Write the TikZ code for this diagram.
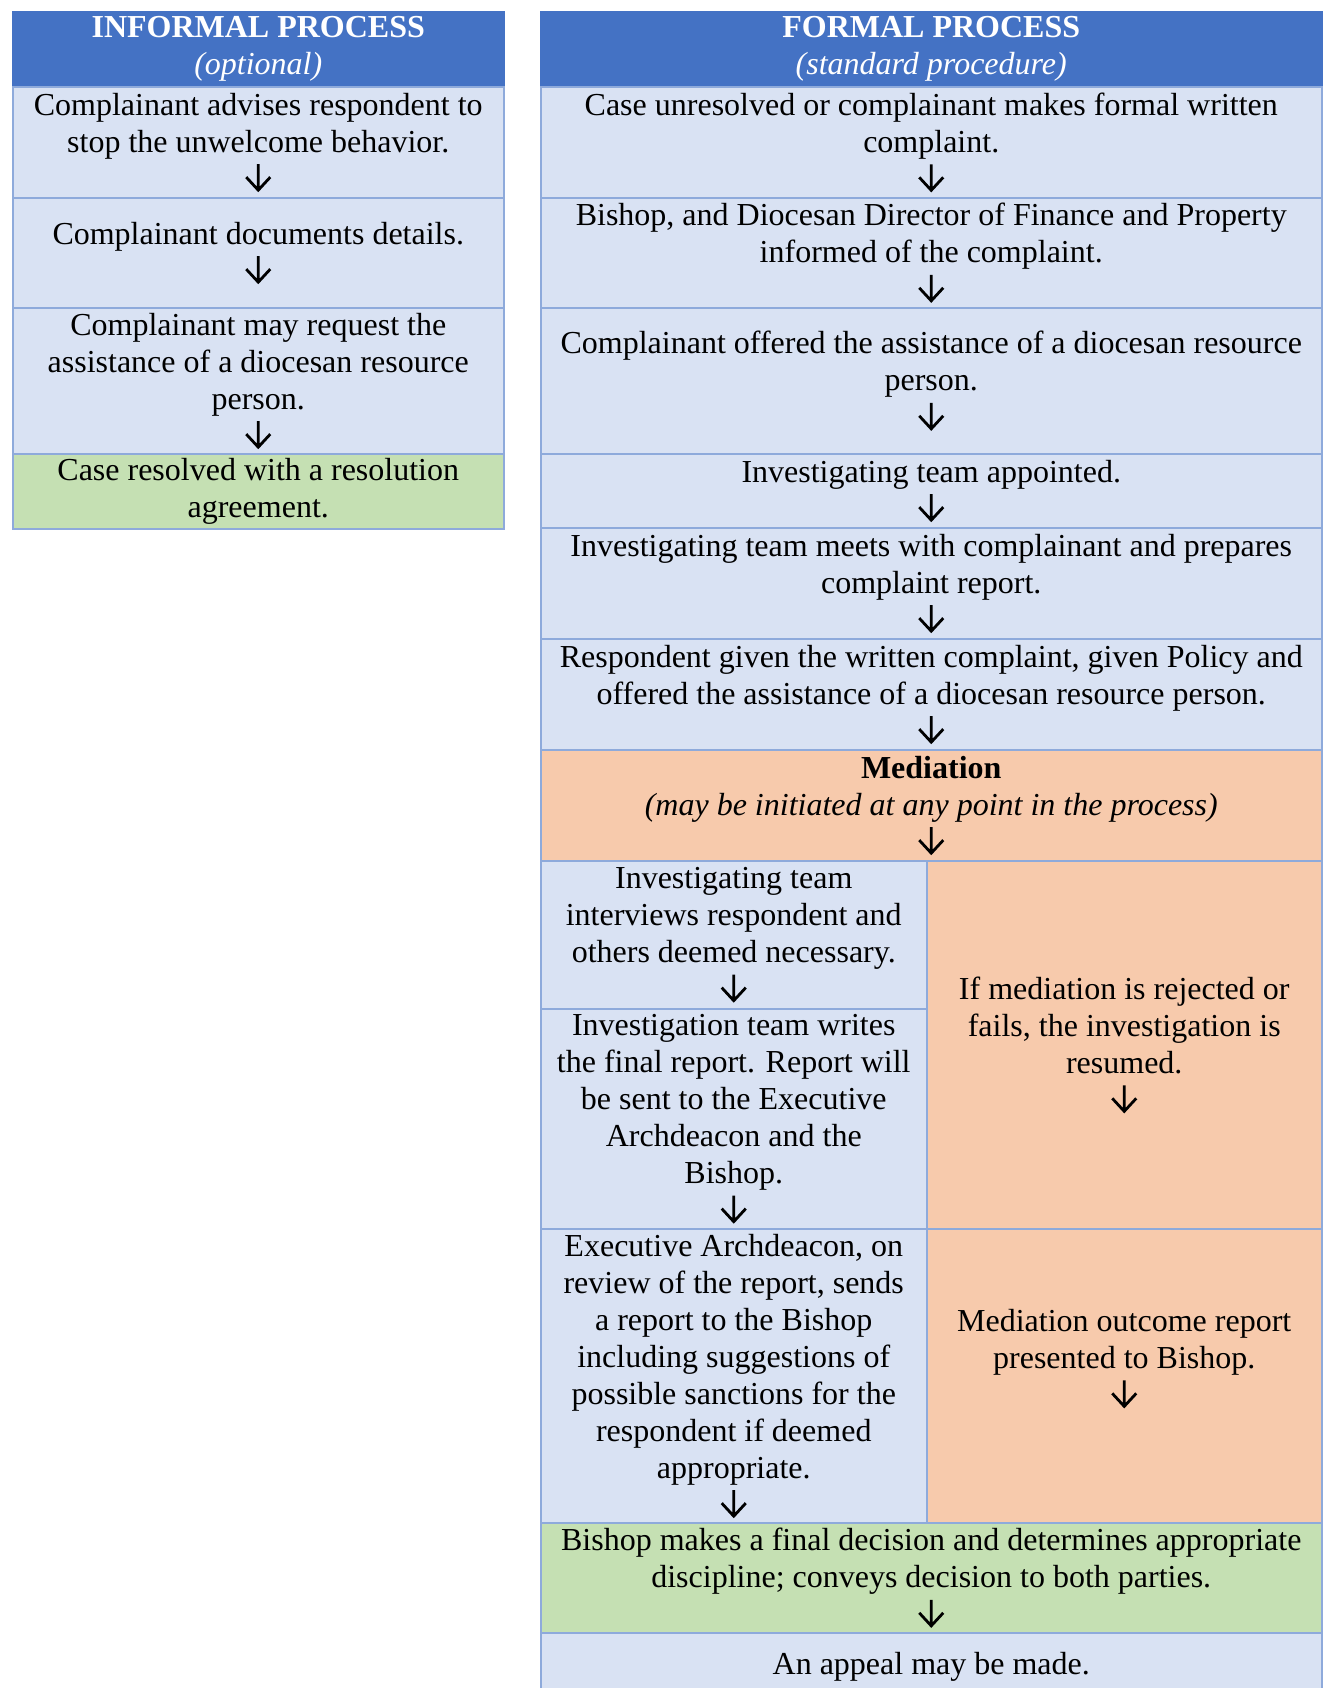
\documentclass[tikz,border=0pt]{standalone}
\usepackage{fontspec}
\setmainfont{Liberation Serif}

\definecolor{headblue}{HTML}{4472C4}
\definecolor{cellblue}{HTML}{D9E2F3}
\definecolor{gridblue}{HTML}{8EAADB}
\definecolor{medorange}{HTML}{F7CAAC}
\definecolor{donegreen}{HTML}{C5E0B3}

% the down arrow at the end of a step
\newcommand{\nextstep}{\tikz[baseline=0pt]\draw[black, line width=1.4pt, line join=miter]
  (0pt,12.5pt)--(0pt,-0.5pt) (-6pt,6pt)--(0pt,-0.5pt)--(6pt,6pt);}

\begin{document}
\begin{tikzpicture}[x=0.5pt,y=-0.5pt,
  cell/.style={draw=gridblue, line width=0.75pt, fill=cellblue, inner sep=0pt,
    align=center, anchor=north west, font=\fontsize{16}{18.5}\selectfont},
  head/.style={cell, fill=headblue, draw=headblue, text=white},
  med/.style={cell, fill=medorange},
  done/.style={cell, fill=donegreen}]
  \useasboundingbox (0,0) rectangle (1324,1688);
  \clip (0,0) rectangle (1324,1688);

% informal column
\node[head, minimum width=245.5pt, minimum height=37.5pt] (infhead) at (12,11)
  {\textbf{INFORMAL PROCESS}\\\textit{(optional)}};
\node[cell, minimum width=245.5pt, minimum height=55.5pt] (inf1) at (12,86)
  {Complainant advises respondent to\\stop the unwelcome behavior.\\\nextstep};
\node[cell, minimum width=245.5pt, minimum height=55pt] (inf2) at (12,197)
  {Complainant documents details.\\\nextstep};
\node[cell, minimum width=245.5pt, minimum height=73pt] (inf3) at (12,307)
  {Complainant may request the\\assistance of a diocesan resource\\person.\\\nextstep};
\node[done, minimum width=245.5pt, minimum height=37.5pt] (inf4) at (12,453)
  {Case resolved with a resolution\\agreement.};

% formal column
\node[head, minimum width=390.5pt, minimum height=37.5pt] (fhead) at (540,11)
  {\textbf{FORMAL PROCESS}\\\textit{(standard procedure)}};
\node[cell, minimum width=390.5pt, minimum height=55.5pt] (f1) at (540,86)
  {Case unresolved or complainant makes formal written\\complaint.\\\nextstep};
\node[cell, minimum width=390.5pt, minimum height=55pt] (f2) at (540,197)
  {Bishop, and Diocesan Director of Finance and Property\\informed of the complaint.\\\nextstep};
\node[cell, minimum width=390.5pt, minimum height=73pt] (f3) at (540,307)
  {Complainant offered the assistance of a diocesan resource\\person.\\\nextstep};
\node[cell, minimum width=390.5pt, minimum height=37pt] (f4) at (540,453)
  {Investigating team appointed.\\\nextstep};
\node[cell, minimum width=390.5pt, minimum height=55.5pt] (f5) at (540,527)
  {Investigating team meets with complainant and prepares\\complaint report.\\\nextstep};
\node[cell, minimum width=390.5pt, minimum height=55.5pt] (f6) at (540,638)
  {Respondent given the written complaint, given Policy and\\offered the assistance of a diocesan resource person.\\\nextstep};
\node[med, minimum width=390.5pt, minimum height=55.5pt] (mediation) at (540,749)
  {\textbf{Mediation}\\\textit{(may be initiated at any point in the process)}\\\nextstep};

% split rows
\node[cell, minimum width=193pt, minimum height=74pt] (interview) at (540,860)
  {Investigating team\\interviews respondent and\\others deemed necessary.\\\nextstep};
\node[cell, minimum width=193pt, minimum height=110pt] (finalrep) at (540,1008)
  {Investigation team writes\\the final report. Report will\\be sent to the Executive\\Archdeacon and the\\Bishop.\\\nextstep};
\node[med, minimum width=197.5pt, minimum height=184pt] (resumed) at (926,860)
  {If mediation is rejected or\\fails, the investigation is\\resumed.\\\nextstep};
\node[cell, minimum width=193pt, minimum height=147pt] (archdeacon) at (540,1228)
  {Executive Archdeacon, on\\review of the report, sends\\a report to the Bishop\\including suggestions of\\possible sanctions for the\\respondent if deemed\\appropriate.\\\nextstep};
\node[med, minimum width=197.5pt, minimum height=147pt] (outcome) at (926,1228)
  {Mediation outcome report\\presented to Bishop.\\\nextstep\\~};

\node[done, minimum width=390.5pt, minimum height=55pt] (decision) at (540,1522)
  {Bishop makes a final decision and determines appropriate\\discipline; conveys decision to both parties.\\\nextstep};
\node[cell, minimum width=390.5pt, minimum height=34pt] (appeal) at (540,1632)
  {An appeal may be made.};

\end{tikzpicture}
\end{document}
